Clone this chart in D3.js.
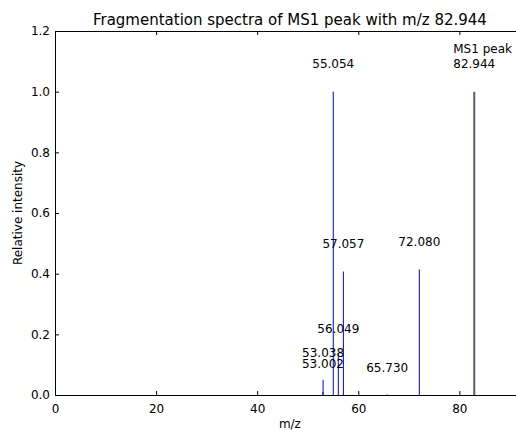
<!DOCTYPE html>
<html><head><meta charset="utf-8">
<script src="https://cdn.jsdelivr.net/npm/d3@7"></script>
<style>
html,body{margin:0;padding:0;background:#fff;}
text{font-family:"DejaVu Sans",sans-serif;fill:#000;}
</style></head>
<body>
<svg id="chart" width="516" height="430"></svg>
<script>
const title = "Fragmentation spectra of MS1 peak with m/z 82.944";
const fragmentMz = [53.002, 53.038, 55.054, 56.049, 57.057, 65.730, 72.080];
const fragmentIntensity = [0.010, 0.050, 1.000, 0.135, 0.407, 0.002, 0.414];
const fragmentLabels = ["53.002", "53.038", "55.054", "56.049", "57.057", "65.730", "72.080"];
const fragmentLabelY = [0.089, 0.125, 1.078, 0.204, 0.485, 0.076, 0.491];
const precursorMz = [82.944];
const precursorIntensity = [1.0];
const precursorLabels = ["82.944"];
const precursorLabelY = [1.078];
const precursorNoteY = [1.128];
const xTicks = [0, 20, 40, 60, 80];
const yTicks = [0, 0.2, 0.4, 0.6, 0.8, 1.0, 1.2];
const xDomain = [0, 92.944];
const yDomain = [0, 1.2];

const svg = d3.select("#chart");
const m = {left: 55, top: 31, right: 524.8, bottom: 395};
const x = d3.scaleLinear().domain(xDomain).range([m.left, m.right]);
const y = d3.scaleLinear().domain(yDomain).range([m.bottom, m.top]);

// fragment lines
svg.append("g").selectAll("line").data(fragmentMz).join("line")
  .attr("x1", d => x(d)).attr("x2", d => x(d))
  .attr("y1", y(0)).attr("y2", (d, i) => y(fragmentIntensity[i]))
  .attr("stroke", "#0000ff").attr("stroke-width", 1);

// precursor line
svg.append("g").selectAll("line").data(precursorMz).join("line")
  .attr("x1", d => x(d)).attr("x2", d => x(d))
  .attr("y1", y(0)).attr("y2", (d, i) => y(precursorIntensity[i]))
  .attr("stroke", "#5b5b80").attr("stroke-width", 2);

// axes
const fs = 12;
const xAxis = d3.axisBottom(x).tickValues(xTicks).tickFormat(d3.format("d")).tickSizeInner(-4).tickSizeOuter(0).tickPadding(8);
const yAxis = d3.axisLeft(y).tickValues(yTicks).tickFormat(d3.format(".1f")).tickSizeInner(-4).tickSizeOuter(0).tickPadding(5);
const gx = svg.append("g").attr("transform", `translate(0,${m.bottom})`).call(xAxis);
const gy = svg.append("g").attr("transform", `translate(${m.left},0)`).call(yAxis);
const gxt = svg.append("g").attr("transform", `translate(0,${m.top})`).call(d3.axisTop(x).tickValues(xTicks).tickFormat("").tickSizeInner(-4).tickSizeOuter(0));
const gyr = svg.append("g").attr("transform", `translate(${m.right},0)`).call(d3.axisRight(y).tickValues(yTicks).tickFormat("").tickSizeInner(-4).tickSizeOuter(0));
[gx, gy, gxt, gyr].forEach(g => {
  g.select(".domain").attr("stroke", "#000").attr("stroke-width", 1);
  g.selectAll(".tick line").attr("stroke", "#000");
  g.selectAll(".tick text").attr("font-size", fs).attr("font-family", "DejaVu Sans").attr("fill", "#000");
});
gx.selectAll(".tick text").attr("dy", "0.85em");

// labels
svg.append("g").selectAll("text").data(fragmentLabels).join("text")
  .attr("x", (d, i) => x(fragmentMz[i])).attr("y", (d, i) => y(fragmentLabelY[i]))
  .attr("text-anchor", "middle").attr("font-size", fs).text(d => d);
const pl = svg.append("g").selectAll("text").data(precursorLabels).join("text")
  .attr("x", (d, i) => x(precursorMz[i])).attr("y", (d, i) => y(precursorLabelY[i]))
  .attr("text-anchor", "middle").attr("font-size", fs).text(d => d);
const w = pl.node().getComputedTextLength();
svg.append("text").attr("x", x(precursorMz[0]) - w / 2).attr("y", y(precursorNoteY[0]))
  .attr("font-size", fs).text("MS1 peak");

// title & axis titles
svg.append("text").attr("x", (m.left + m.right) / 2).attr("y", 25)
  .attr("text-anchor", "middle").attr("font-size", 15).text(title);
svg.append("text").attr("x", (m.left + m.right) / 2).attr("y", 428)
  .attr("text-anchor", "middle").attr("font-size", fs).text("m/z");
svg.append("text").attr("transform", `translate(22,${(m.top + m.bottom) / 2}) rotate(-90)`)
  .attr("text-anchor", "middle").attr("font-size", fs).text("Relative intensity");
</script>
</body></html>
